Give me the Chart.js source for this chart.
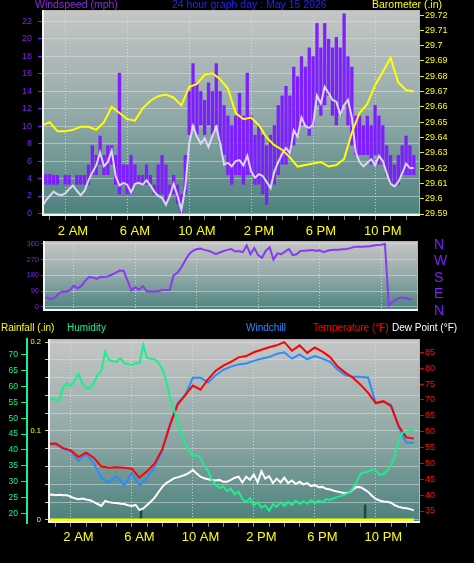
<!DOCTYPE html>
<html>
<head>
<meta charset="utf-8">
<script src="https://cdn.jsdelivr.net/npm/chart.js@4.4.1/dist/chart.umd.min.js"></script>
<style>
body { margin: 0; background: #000; width: 474px; height: 563px; overflow: hidden; position: relative;
       font-family: "Liberation Sans", Arial, sans-serif; }
canvas { position: absolute; left: 0; }
.t { position: absolute; font-size: 10.5px; line-height: 11px; white-space: nowrap; }
.b { font-size: 10px; }
</style>
</head>
<body>
<canvas id="wind" width="474" height="240" style="top:0"></canvas>
<canvas id="dir" width="474" height="86" style="top:232px"></canvas>
<canvas id="temp" width="474" height="245" style="top:318px"></canvas>

<div class="t" style="left:35px;top:-1px;color:#8a2be2">Windspeed (mph)</div>
<div class="t" style="left:172px;top:-1px;color:#2222ff">24 hour graph day : May 15 2026</div>
<div class="t" style="left:372px;top:-1px;color:#ffff00">Barometer (.in)</div>

<div class="t b" style="left:1px;top:322px;color:#ffff00">Rainfall (.in)</div>
<div class="t b" style="left:67px;top:322px;color:#19f08c">Humidity</div>
<div class="t b" style="left:246px;top:322px;color:#2a8cff">Windchill</div>
<div class="t b" style="left:313px;top:322px;color:#ff0000">Temperature (°F)</div>
<div class="t b" style="left:392px;top:322px;color:#ffffff">Dew Point (°F)</div>

<script>
// time axis
let hourMarks = [0,1,2,3,4,5,6,7,8,9,10,11,12,13,14,15,16,17,18,19,20,21,22,23,24];
let labelHours = [2, 6, 10, 14, 18, 22];
let hourLabels = ['2 AM', '6 AM', '10 AM', '2 PM', '6 PM', '10 PM'];

// wind speed, every 15 minutes from midnight (mph)
let windLo = [2.2, 3.3, 3.3, 3.3, 3.3, 3.3, 3.3, 3.3,
  3.3, 3.3, 3.3, 3.3, 3.3, 4.4, 4.4, 5.6,
  4.4, 4.4, 5.6, 3.3, 2.2, 3.3, 2.2, 2.2,
  3.3, 3.3, 3.3, 3.3, 3.3, 2.2, 2.2, 2.2,
  1.1, 2.2, 2.2, 1.1, 0.0, 2.2, 9.0, 10.1,
  9.0, 10.1, 9.0, 10.1, 9.0, 10.1, 8.0, 6.7,
  4.4, 3.3, 4.4, 4.4, 3.3, 4.4, 4.4, 3.3,
  3.3, 2.2, 1.0, 3.3, 3.3, 4.4, 5.6, 5.6,
  6.7, 7.8, 8.9, 10.1, 10.1, 8.9, 10.1, 12.4,
  11.2, 12.4, 13.5, 11.2, 10.1, 11.2, 12.4, 10.1,
  7.8, 6.7, 6.7, 6.7, 6.7, 5.6, 6.7, 5.6,
  5.6, 4.4, 3.3, 3.3, 3.3, 4.4, 4.4, 4.4, 4.4];
let windHi = [4.4, 4.5, 4.5, 4.4, 4.4, 3.3, 4.4, 4.4,
  3.3, 4.4, 4.4, 4.4, 5.6, 7.8, 6.7, 8.9,
  6.7, 7.8, 7.8, 6.7, 16.1, 5.6, 5.6, 6.7,
  5.6, 4.4, 4.4, 5.6, 4.4, 3.3, 5.6, 6.7,
  5.6, 3.3, 4.4, 3.3, 2.2, 6.7, 14.0, 17.2,
  15.0, 14.0, 13.0, 15.0, 14.0, 17.2, 14.0, 12.4,
  11.2, 10.1, 11.2, 13.8, 11.2, 16.1, 11.2, 9.0,
  10.1, 9.0, 7.8, 9.0, 10.1, 12.4, 13.5, 14.6,
  13.5, 16.8, 15.7, 18.0, 16.8, 19.0, 18.0, 21.8,
  19.0, 21.8, 20.0, 19.0, 20.2, 19.0, 22.9, 18.0,
  16.8, 11.2, 11.2, 10.1, 11.2, 10.1, 12.4, 11.2,
  10.1, 7.8, 6.7, 5.6, 6.7, 7.8, 8.9, 7.8, 6.7];
let windAvg = [0.8, 1.5, 2.0, 2.5, 2.2, 2.1, 2.3, 2.8,
  3.2, 2.6, 2.1, 2.6, 3.8, 4.7, 5.5, 7.0,
  5.4, 5.9, 7.2, 4.3, 3.2, 3.5, 3.3, 2.4,
  3.4, 3.5, 3.3, 3.8, 3.2, 2.5, 2.0, 1.8,
  1.0, 2.0, 3.4, 2.0, 0.4, 3.0, 8.0, 10.0,
  8.8, 8.0, 8.6, 7.6, 8.9, 9.9, 8.0, 5.6,
  5.8, 5.4, 6.0, 6.1, 5.5, 6.6, 4.8, 4.1,
  4.5, 4.3, 3.6, 2.9, 4.8, 5.9, 6.8, 7.5,
  6.9, 9.5, 8.8, 11.0, 10.0, 9.8, 10.2, 13.5,
  12.6, 14.5, 13.8, 13.0, 12.8, 11.3, 12.4, 13.0,
  11.0, 7.0, 5.9, 5.4, 5.8, 6.2, 5.5, 6.6,
  6.0, 4.6, 3.4, 3.1, 3.6, 4.6, 5.7, 5.2, 5.2];

// barometer, every 30 minutes (in)
let baro = [29.648, 29.650, 29.644, 29.644, 29.645, 29.647, 29.647, 29.645,
  29.650, 29.660, 29.656, 29.652, 29.651, 29.659, 29.664, 29.667,
  29.668, 29.666, 29.661, 29.673, 29.675, 29.681, 29.682, 29.678,
  29.672, 29.656, 29.652, 29.653, 29.648, 29.640, 29.635, 29.632,
  29.627, 29.621, 29.622, 29.623, 29.624, 29.621, 29.622, 29.626,
  29.643, 29.656, 29.662, 29.674, 29.683, 29.692, 29.676, 29.671, 29.670];

// wind direction, every 15 minutes (degrees)
let windDir = [55, 53, 45, 50, 75, 87, 87, 95,
  122, 106, 120, 150, 170, 168, 160, 172,
  170, 175, 185, 195, 208, 205, 150, 95,
  112, 98, 118, 90, 88, 88, 90, 96,
  97, 98, 180, 195, 225, 265, 300, 320,
  330, 332, 325, 320, 312, 300, 310, 318,
  325, 330, 316, 318, 312, 350, 300, 335,
  295, 280, 320, 340, 270, 305, 300, 315,
  330, 295, 300, 318, 320, 322, 324, 320,
  322, 312, 320, 324, 325, 326, 328, 330,
  335, 342, 343, 342, 344, 346, 350, 352,
  354, 358, 10, 28, 45, 52, 52, 48, 42];

// temperature and windchill, every 30 minutes (F)
let temperature = [56.2, 56.3, 54.8, 54.1, 52.0, 53.4, 51.8, 49.0,
  48.6, 48.8, 48.6, 48.3, 45.5, 47.5, 50.0, 54.5,
  62.0, 68.5, 71.5, 74.5, 73.2, 76.5, 79.2, 80.8,
  82.0, 83.4, 83.8, 85.0, 85.8, 86.6, 87.2, 88.2,
  85.5, 87.2, 84.8, 86.5, 85.2, 83.5, 80.5, 78.6,
  77.0, 74.8, 72.2, 69.0, 69.6, 68.0, 61.8, 58.2, 57.8];
let windchill = [56.0, 56.0, 54.6, 53.8, 50.8, 53.0, 50.0, 45.5,
  44.0, 46.0, 43.0, 47.0, 43.0, 45.5, 49.0, 54.0,
  62.5, 69.0, 71.5, 77.0, 77.0, 75.5, 77.8, 79.5,
  80.5, 81.2, 81.5, 82.3, 83.0, 83.5, 84.5, 85.0,
  83.0, 84.3, 82.8, 83.8, 83.0, 82.0, 79.5, 77.8,
  77.3, 77.3, 77.0, 68.9, 69.4, 68.5, 61.5, 56.5, 56.5];

// humidity (%) and dew point (F), every 15 minutes
let humidity = [55.5, 56.3, 56.0, 55.5, 60.0, 61.0, 60.2, 62.0,
  64.0, 61.0, 59.5, 59.5, 61.0, 63.7, 65.0, 71.0,
  68.4, 68.0, 67.9, 69.0, 67.4, 67.2, 66.8, 67.5,
  67.4, 73.2, 69.0, 68.8, 68.7, 67.5, 65.5, 62.0,
  56.5, 53.2, 49.0, 45.0, 42.0, 40.0, 38.0, 38.4,
  37.5, 35.0, 33.5, 30.5, 29.0, 28.0, 28.5, 27.0,
  27.8, 26.0, 26.8, 24.5, 23.5, 24.8, 22.5, 23.5,
  21.8, 22.5, 20.8, 22.8, 22.1, 23.5, 22.3, 23.6,
  22.6, 24.0, 23.0, 23.8, 23.0, 24.2, 23.2, 24.0,
  23.5, 24.5, 24.2, 24.8, 25.2, 25.5, 26.0, 26.5,
  28.0, 30.0, 32.5, 33.0, 33.1, 33.8, 33.5, 32.2,
  32.3, 33.5, 35.0, 38.0, 43.0, 45.5, 45.8, 46.0, 46.2];
let dewPoint = [40.0, 40.2, 40.0, 40.1, 40.0, 40.0, 39.5, 39.0,
  38.7, 38.9, 38.6, 38.4, 37.9, 37.2, 36.6, 38.2,
  37.8, 37.6, 37.5, 37.3, 37.2, 36.8, 36.6, 36.9,
  35.3, 35.8, 36.9, 38.0, 39.2, 41.0, 42.6, 43.8,
  44.5, 45.3, 45.6, 46.0, 46.4, 47.0, 47.9, 46.8,
  45.8, 45.3, 45.0, 44.8, 44.6, 44.8, 44.2, 44.2,
  44.8, 45.5, 45.8, 44.0, 45.8, 44.8, 46.5, 44.0,
  47.5, 45.2, 46.0, 43.8, 45.2, 44.0, 45.5, 43.8,
  44.6, 43.5, 44.2, 43.4, 43.8, 42.8, 43.2, 42.5,
  42.6, 42.0, 41.8, 41.4, 41.1, 40.8, 40.6, 40.8,
  41.8, 42.6, 42.5, 41.8, 41.0, 39.8, 38.8, 38.3,
  38.0, 37.9, 37.6, 36.8, 36.3, 36.0, 35.9, 35.6, 35.2];

// rainfall, hourly (in)
let rainfall = [0, 0, 0, 0, 0, 0, 0, 0, 0, 0, 0, 0, 0, 0, 0, 0, 0, 0, 0, 0, 0, 0, 0, 0, 0];
let markHours = [6.1, 20.8];
let markRain = [0.011, 0.017];

// axis ticks
let windTicks = [0, 2, 4, 6, 8, 10, 12, 14, 16, 18, 20, 22];
let baroTicks = [29.59, 29.6, 29.61, 29.62, 29.63, 29.64, 29.65, 29.66, 29.67, 29.68, 29.69, 29.7, 29.71, 29.72];
let dirTicks = [0, 90, 180, 270, 360];
let dirLabels = ['N', 'E', 'S', 'W', 'N'];
let humTicks = [20, 25, 30, 35, 40, 45, 50, 55, 60, 65, 70];
let rainTicks = [0, 0.02, 0.04, 0.06, 0.08, 0.1, 0.12, 0.14, 0.16, 0.18, 0.2];
let rainLabels = ['0', '', '', '', '', '0.1', '', '', '', '', '0.2'];
let tempTicks = [35, 40, 45, 50, 55, 60, 65, 70, 75, 80, 85];

Chart.defaults.font.family = '"Liberation Sans", Arial, sans-serif';
Chart.defaults.animation = false;
Chart.defaults.plugins.legend.display = false;
Chart.defaults.plugins.tooltip.enabled = false;
Chart.defaults.elements.point.radius = 0;
Chart.defaults.elements.line.borderWidth = 2;

function series(vals, step) {
  return vals.map((v, i) => ({x: i * step, y: v}));
}

// fixed axis size, no extra padding for end labels
function fixW(w) {
  return s => { s.width = w; s.paddingTop = 0; s.paddingBottom = 0; };
}
function fixH(h) {
  return s => { s.height = h; s.paddingLeft = 0; s.paddingRight = 0; };
}

// grey -> teal background and the white frame of each plot
const panel = {
  id: 'panel',
  beforeDraw(chart) {
    const {ctx, chartArea: a} = chart;
    const g = ctx.createLinearGradient(0, a.top, 0, a.bottom);
    g.addColorStop(0, '#c6c6c6');
    g.addColorStop(0.5, '#92aaa8');
    g.addColorStop(1, '#4a817d');
    ctx.save();
    ctx.fillStyle = g;
    ctx.fillRect(a.left, a.top, a.right - a.left, a.bottom - a.top);
    ctx.restore();
  },
  afterDatasetsDraw(chart) {
    const {ctx, chartArea: a} = chart;
    ctx.save();
    ctx.strokeStyle = '#b4b4b4';
    ctx.lineWidth = 1;
    ctx.strokeRect(a.left + 0.5, a.top + 0.5, a.right - a.left - 1, a.bottom - a.top - 1);
    ctx.strokeStyle = '#f4f4f4';
    ctx.lineWidth = 2;
    ctx.beginPath();
    ctx.moveTo(a.left + 1, a.top);
    ctx.lineTo(a.left + 1, a.bottom - 1);
    ctx.lineTo(a.right, a.bottom - 1);
    ctx.stroke();
    ctx.restore();
  }
};

function timeAxis(height, showLabels, pad) {
  return {
    type: 'linear', min: 0, max: 24.4, offset: false,
    afterBuildTicks: s => { s.ticks = hourMarks.map(v => ({value: v})); },
    afterFit: fixH(height),
    border: {display: false, dash: [1, 2]},
    grid: {
      color: c => (c.tick && labelHours.includes(c.tick.value)) ? 'rgba(225,228,228,0.75)' : 'rgba(0,0,0,0)',
      tickColor: '#8a8a8a', tickLength: 4, drawTicks: showLabels
    },
    ticks: {
      display: showLabels, color: '#ffff00', font: {size: 13}, padding: pad,
      maxRotation: 0, autoSkip: false,
      callback: v => { const k = labelHours.indexOf(v); return k < 0 ? '' : hourLabels[k]; }
    }
  };
}

const hGrid = 'rgba(222,228,228,0.5)';

new Chart(document.getElementById('wind'), {
  type: 'line',
  data: {
    datasets: [
      {type: 'bar', label: 'Wind speed range',
       data: windHi.map((v, i) => ({x: i * 0.25, y: [windLo[i], v]})),
       backgroundColor: '#7f1fff', borderWidth: 0, barPercentage: 0.85, categoryPercentage: 1,
       yAxisID: 'yW', order: 3},
      {label: 'Wind speed', data: series(windAvg, 0.25), borderColor: '#ddd6f6', yAxisID: 'yW', order: 2},
      {label: 'Barometer', data: series(baro, 0.5), borderColor: '#ffff00', yAxisID: 'yB', order: 1}
    ]
  },
  options: {
    responsive: false, devicePixelRatio: 1,
    layout: {autoPadding: false, padding: {top: 10, bottom: 0, left: 0, right: 0}},
    scales: {
      x: timeAxis(24, true, 4),
      yW: {
        position: 'left', min: -0.29, max: 23.3,
        afterBuildTicks: s => { s.ticks = windTicks.map(v => ({value: v})); },
        afterFit: fixW(42),
        border: {display: false},
        grid: {color: hGrid, tickColor: '#7f1fff', tickLength: 4},
        ticks: {color: '#7a22f0', font: {size: 9}, padding: 6, autoSkip: false}
      },
      yB: {
        position: 'right', min: 29.5887, max: 29.7233,
        afterBuildTicks: s => { s.ticks = baroTicks.map(v => ({value: v})); },
        afterFit: fixW(54),
        border: {display: false},
        grid: {drawOnChartArea: false, tickColor: '#e8e800', tickLength: 4},
        ticks: {color: '#ffff00', font: {size: 9}, padding: 1, autoSkip: false,
                callback: v => String(+v.toFixed(2))}
      }
    }
  },
  plugins: [panel]
});

new Chart(document.getElementById('dir'), {
  type: 'line',
  data: {
    datasets: [
      {label: 'Wind direction', data: series(windDir, 0.25), borderColor: '#8a38f2', yAxisID: 'yD'}
    ]
  },
  options: {
    responsive: false, devicePixelRatio: 1,
    layout: {autoPadding: false, padding: {top: 9, bottom: 7, left: 0, right: 0}},
    scales: {
      x: timeAxis(0, false, 0),
      yD: {
        position: 'left', min: -22.8, max: 375.4,
        afterBuildTicks: s => { s.ticks = dirTicks.map(v => ({value: v})); },
        afterFit: fixW(43),
        border: {display: false},
        grid: {color: hGrid, tickColor: '#7f1fff', tickLength: 2},
        ticks: {color: '#7a22f0', font: {size: 7.5}, padding: 2, autoSkip: false}
      },
      yN: {
        position: 'right', min: 0, max: 381.8,
        afterBuildTicks: s => { s.ticks = dirTicks.map(v => ({value: v})); },
        afterFit: fixW(56),
        border: {display: false},
        grid: {drawOnChartArea: false, drawTicks: false},
        ticks: {color: '#7a22f0', font: {size: 14}, padding: 16, autoSkip: false,
                callback: (v, i) => dirLabels[i]}
      }
    }
  },
  plugins: [panel]
});

new Chart(document.getElementById('temp'), {
  type: 'line',
  data: {
    datasets: [
      {label: 'Rainfall', data: series(rainfall, 1), borderColor: '#ffff00', borderWidth: 3, yAxisID: 'yR', order: 6},
      {type: 'bar', label: 'Rain marks', data: markHours.map((h, i) => ({x: h, y: markRain[i]})),
       backgroundColor: '#1f4d33', barThickness: 2, yAxisID: 'yR', order: 7},
      {label: 'Dew Point', data: series(dewPoint, 0.25), borderColor: '#ffffff', yAxisID: 'yT', order: 5},
      {label: 'Windchill', data: series(windchill, 0.5), borderColor: '#2a8cff', yAxisID: 'yT', order: 4},
      {label: 'Temperature', data: series(temperature, 0.5), borderColor: '#ff0000', yAxisID: 'yT', order: 3},
      {label: 'Humidity', data: series(humidity, 0.25), borderColor: '#19f08c', yAxisID: 'yH', order: 2}
    ]
  },
  options: {
    responsive: false, devicePixelRatio: 1,
    layout: {autoPadding: false, padding: {top: 21, bottom: 0, left: 0, right: 0}},
    scales: {
      x: timeAxis(40, true, 3),
      yH: {
        position: 'left', weight: 1, min: 16.94, max: 75.05,
        afterBuildTicks: s => { s.ticks = humTicks.map(v => ({value: v})); },
        afterFit: fixW(27),
        border: {display: true, color: '#19f08c', width: 2},
        grid: {drawOnChartArea: false, tickColor: '#19f08c', tickLength: 6},
        ticks: {color: '#19f08c', font: {size: 8.5}, padding: 3, autoSkip: false}
      },
      yR: {
        position: 'left', weight: 0, min: -0.0034, max: 0.2034,
        afterBuildTicks: s => { s.ticks = rainTicks.map(v => ({value: v})); },
        afterFit: fixW(21),
        border: {display: false},
        grid: {color: hGrid, tickColor: '#d8d800', tickLength: 3},
        ticks: {color: '#ffff00', font: {size: 7.5}, padding: 4, autoSkip: false,
                callback: (v, i) => rainLabels[i]}
      },
      yT: {
        position: 'right', min: 31.22, max: 89.19,
        afterBuildTicks: s => { s.ticks = tempTicks.map(v => ({value: v})); },
        afterFit: fixW(54),
        border: {display: false},
        grid: {drawOnChartArea: false, tickColor: '#e00000', tickLength: 4},
        ticks: {color: '#ff1010', font: {size: 9}, padding: 1, autoSkip: false}
      }
    }
  },
  plugins: [panel]
});
</script>
</body>
</html>
